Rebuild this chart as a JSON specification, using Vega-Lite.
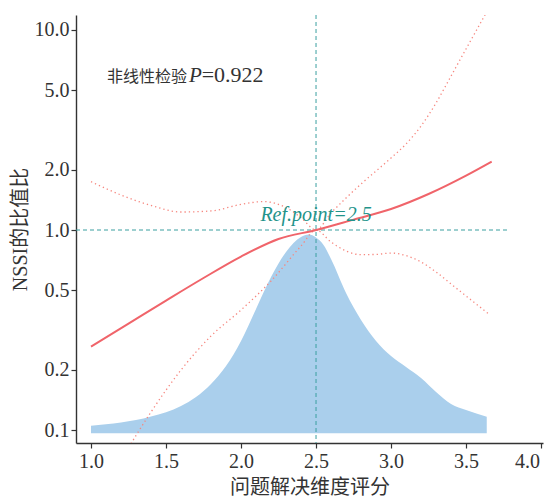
{
  "$schema": "https://vega.github.io/schema/vega-lite/v6.json",
  "width": 467,
  "height": 428,
  "autosize": "none",
  "padding": {"left": 76, "top": 15, "right": 1, "bottom": 57},
  "background": "white",
  "config": {
    "view": {"stroke": null},
    "axis": {
      "labelFont": "Liberation Serif",
      "labelFontSize": 20,
      "labelColor": "#333333",
      "titleFont": "Liberation Serif, Noto Sans CJK SC",
      "titleFontSize": 20,
      "titleFontWeight": "normal",
      "titleColor": "#333333",
      "domainColor": "#333333",
      "domainWidth": 1.4,
      "tickColor": "#333333",
      "tickWidth": 1.2,
      "tickSize": 5,
      "grid": false
    }
  },
  "datasets": {
    "density": [
      {"x": 1.0, "y": 0.1051},
      {"x": 1.2, "y": 0.109},
      {"x": 1.4, "y": 0.1168},
      {"x": 1.6, "y": 0.1318},
      {"x": 1.7, "y": 0.1462},
      {"x": 1.8, "y": 0.1698},
      {"x": 1.9, "y": 0.2089},
      {"x": 2.0, "y": 0.2786},
      {"x": 2.1, "y": 0.4027},
      {"x": 2.2, "y": 0.5821},
      {"x": 2.3, "y": 0.7762},
      {"x": 2.4, "y": 0.9226},
      {"x": 2.45, "y": 0.9495},
      {"x": 2.5, "y": 0.9173},
      {"x": 2.55, "y": 0.8414},
      {"x": 2.6, "y": 0.7161},
      {"x": 2.7, "y": 0.4842},
      {"x": 2.8, "y": 0.3548},
      {"x": 2.9, "y": 0.2786},
      {"x": 3.0, "y": 0.2344},
      {"x": 3.1, "y": 0.2065},
      {"x": 3.2, "y": 0.182},
      {"x": 3.3, "y": 0.1549},
      {"x": 3.4, "y": 0.1349},
      {"x": 3.5, "y": 0.1259},
      {"x": 3.638, "y": 0.1165}
    ],
    "curves": [
      {"x": 1.0, "y": 0.2612, "series": "hr"},
      {"x": 1.25, "y": 0.3404, "series": "hr"},
      {"x": 1.5, "y": 0.4436, "series": "hr"},
      {"x": 1.75, "y": 0.5754, "series": "hr"},
      {"x": 2.0, "y": 0.7362, "series": "hr"},
      {"x": 2.25, "y": 0.9016, "series": "hr"},
      {"x": 2.5, "y": 1.0, "series": "hr"},
      {"x": 2.75, "y": 1.127, "series": "hr"},
      {"x": 3.0, "y": 1.2735, "series": "hr"},
      {"x": 3.25, "y": 1.5136, "series": "hr"},
      {"x": 3.5, "y": 1.8707, "series": "hr"},
      {"x": 3.671, "y": 2.198, "series": "hr"},
      {"x": 1.0, "y": 1.744, "series": "upper"},
      {"x": 1.2, "y": 1.496, "series": "upper"},
      {"x": 1.4, "y": 1.327, "series": "upper"},
      {"x": 1.6, "y": 1.23, "series": "upper"},
      {"x": 1.8, "y": 1.245, "series": "upper"},
      {"x": 2.0, "y": 1.343, "series": "upper"},
      {"x": 2.15, "y": 1.387, "series": "upper"},
      {"x": 2.3, "y": 1.294, "series": "upper"},
      {"x": 2.4, "y": 1.153, "series": "upper"},
      {"x": 2.5, "y": 1.0, "series": "upper"},
      {"x": 2.6, "y": 1.216, "series": "upper"},
      {"x": 2.7, "y": 1.445, "series": "upper"},
      {"x": 2.8, "y": 1.698, "series": "upper"},
      {"x": 2.9, "y": 1.972, "series": "upper"},
      {"x": 3.0, "y": 2.291, "series": "upper"},
      {"x": 3.1, "y": 2.692, "series": "upper"},
      {"x": 3.2, "y": 3.311, "series": "upper"},
      {"x": 3.3, "y": 4.315, "series": "upper"},
      {"x": 3.4, "y": 5.888, "series": "upper"},
      {"x": 3.5, "y": 8.035, "series": "upper"},
      {"x": 3.6, "y": 10.965, "series": "upper"},
      {"x": 3.671, "y": 13.65, "series": "upper"},
      {"x": 1.0, "y": 0.0398, "series": "lower"},
      {"x": 1.2, "y": 0.0708, "series": "lower"},
      {"x": 1.4, "y": 0.123, "series": "lower"},
      {"x": 1.6, "y": 0.1995, "series": "lower"},
      {"x": 1.8, "y": 0.2951, "series": "lower"},
      {"x": 2.0, "y": 0.3981, "series": "lower"},
      {"x": 2.2, "y": 0.5559, "series": "lower"},
      {"x": 2.4, "y": 0.8318, "series": "lower"},
      {"x": 2.5, "y": 1.0, "series": "lower"},
      {"x": 2.6, "y": 0.871, "series": "lower"},
      {"x": 2.7, "y": 0.785, "series": "lower"},
      {"x": 2.8, "y": 0.753, "series": "lower"},
      {"x": 2.9, "y": 0.755, "series": "lower"},
      {"x": 3.0, "y": 0.767, "series": "lower"},
      {"x": 3.1, "y": 0.745, "series": "lower"},
      {"x": 3.2, "y": 0.692, "series": "lower"},
      {"x": 3.3, "y": 0.617, "series": "lower"},
      {"x": 3.4, "y": 0.537, "series": "lower"},
      {"x": 3.5, "y": 0.468, "series": "lower"},
      {"x": 3.66, "y": 0.376, "series": "lower"}
    ]
  },
  "encoding": {
    "x": {
      "type": "quantitative",
      "scale": {"domain": [0.9, 4.013], "nice": false, "zero": false},
      "axis": {
        "title": "问题解决维度评分",
        "values": [1, 1.5, 2, 2.5, 3, 3.5, 4],
        "format": ".1f",
        "labelPadding": 3,
        "titlePadding": 6,
        "titleFont": "Noto Sans CJK SC",
        "labelOffset": {"condition": {"test": "datum.value === 4", "value": -14}, "value": 0}
      }
    },
    "y": {
      "type": "quantitative",
      "scale": {"type": "log", "domain": [0.0861, 11.885], "nice": false},
      "axis": {
        "title": "NSSI的比值比",
        "values": [0.1, 0.2, 0.5, 1, 2, 5, 10],
        "format": ".1f",
        "labelPadding": 2,
        "titlePadding": 4
      }
    }
  },
  "layer": [
    {
      "data": {"name": "density"},
      "mark": {"type": "area", "color": "#aacfec", "opacity": 1, "interpolate": "monotone"},
      "encoding": {
        "x": {"field": "x"},
        "y": {"field": "y"},
        "y2": {"datum": 0.0962}
      }
    },
    {
      "data": {"values": [{"x": 0.9, "x2": 3.773, "y": 1}]},
      "mark": {"type": "rule", "color": "#3a9fa0", "strokeWidth": 1, "strokeDash": [4, 3]},
      "encoding": {
        "x": {"field": "x"},
        "x2": {"field": "x2"},
        "y": {"field": "y"}
      }
    },
    {
      "data": {"values": [{"x": 2.5}]},
      "mark": {"type": "rule", "color": "#3a9fa0", "strokeWidth": 1, "strokeDash": [4, 3]},
      "encoding": {
        "x": {"field": "x"}
      }
    },
    {
      "data": {"name": "curves"},
      "transform": [{"filter": "datum.series !== 'hr'"}],
      "mark": {"type": "line", "color": "#f6877f", "strokeWidth": 1.3, "strokeDash": [1.3, 3], "interpolate": "monotone", "clip": true},
      "encoding": {
        "x": {"field": "x"},
        "y": {"field": "y"},
        "detail": {"field": "series"}
      }
    },
    {
      "data": {"name": "curves"},
      "transform": [{"filter": "datum.series === 'hr'"}],
      "mark": {"type": "line", "color": "#f0646a", "strokeWidth": 2, "interpolate": "monotone", "clip": true},
      "encoding": {
        "x": {"field": "x"},
        "y": {"field": "y"}
      }
    },
    {
      "data": {"values": [{"x": 2.5, "y": 1.109, "label": "Ref.point=2.5"}]},
      "mark": {"type": "text", "font": "Liberation Serif", "fontSize": 20, "fontStyle": "italic", "color": "#23938a", "align": "center", "baseline": "alphabetic"},
      "encoding": {
        "x": {"field": "x"},
        "y": {"field": "y"},
        "text": {"field": "label"}
      }
    },
    {
      "data": {"values": [{"x": 1.107, "y": 5.527, "label": "非线性检验"}]},
      "mark": {"type": "text", "font": "Noto Sans CJK SC", "fontSize": 16, "color": "#333333", "align": "left", "baseline": "alphabetic"},
      "encoding": {
        "x": {"field": "x"},
        "y": {"field": "y"},
        "text": {"field": "label"}
      }
    },
    {
      "data": {"values": [{"x": 1.653, "y": 5.527, "label": "P"}]},
      "mark": {"type": "text", "font": "Liberation Serif", "fontSize": 21, "fontStyle": "italic", "color": "#333333", "align": "left", "baseline": "alphabetic"},
      "encoding": {
        "x": {"field": "x"},
        "y": {"field": "y"},
        "text": {"field": "label"}
      }
    },
    {
      "data": {"values": [{"x": 1.738, "y": 5.527, "label": "=0.922"}]},
      "mark": {"type": "text", "font": "Liberation Serif", "fontSize": 22, "color": "#333333", "align": "left", "baseline": "alphabetic"},
      "encoding": {
        "x": {"field": "x"},
        "y": {"field": "y"},
        "text": {"field": "label"}
      }
    }
  ]
}
